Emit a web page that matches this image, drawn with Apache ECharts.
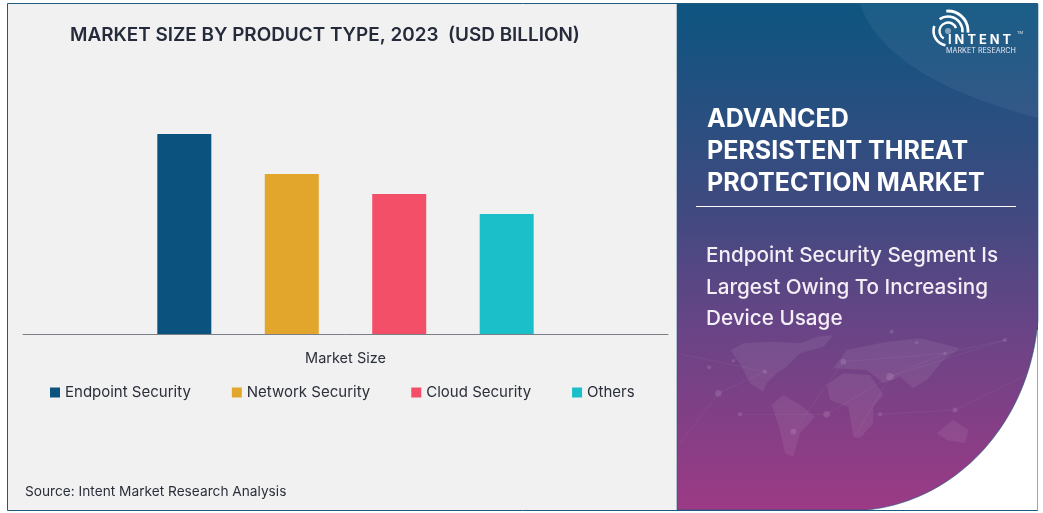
<!DOCTYPE html>
<html><head><meta charset="utf-8">
<style>html,body{margin:0;padding:0;background:#fff}#c{width:1043px;height:513px}</style>
<script src="https://cdn.jsdelivr.net/npm/echarts@6/dist/echarts.min.js"></script>
</head><body><div id="c"></div>
<script>
const category = ['Market Size'];
const seriesNames = ['Endpoint Security','Network Security','Cloud Security','Others'];
const seriesValues = [10.0, 8.0, 7.0, 6.0];
const seriesColors = ['#0b527e','#e3a62c','#f44f69','#1bbfca'];
const titleText = 'MARKET SIZE BY PRODUCT TYPE, 2023  (USD BILLION)';
const headingLines = ['ADVANCED','PERSISTENT THREAT','PROTECTION MARKET'];
const subLines = ['Endpoint Security Segment Is','Largest Owing To Increasing','Device Usage'];
const sourceText = 'Source: Intent Market Research Analysis';
const FONT = 'Inter, "Open Sans", sans-serif';

const mapShapes = [
 [212,90,250,70,330,65,420,70,470,50,520,45,490,80,420,100,380,140,350,160,320,190,310,215,270,190,245,140],
 [335,255,370,225,420,255,465,290,420,340,400,410,375,400,360,330],
 [500,195,550,160,630,165,670,225,640,260,640,310,600,355,580,350,565,260,510,240],
 [520,145,560,90,680,65,780,55,900,85,850,120,800,180,760,205,720,170,670,190,620,150],
 [830,340,880,300,925,330,915,370,860,360]
];
const netLines = [
 [50,100,315,155],[175,220,315,155],[240,283,500,283],[175,220,60,370],[500,283,690,170],
 [400,335,550,125],[590,340,690,170],[690,170,855,100],[660,283,885,270],[550,125,855,100],
 [885,270,1130,150],[855,100,1035,60],[690,170,1035,60]
];
const netDots = [[147,142,5],[220,122,4],[315,155,5],[175,220,8],[240,283,5],[500,283,8],[400,335,7],[550,125,7],[690,170,9],[660,283,5],[855,100,4],[885,270,6],[1035,60,5],[695,35,5],[770,68,4]];
const logoArcs = [[20,-95,5,2.8],[14.5,-125,5,2.6],[14.5,100,200,2.6],[8.5,120,340,2.4]];
const zx = v => 660 + v/3, zy = v => 320 + v/3;
const rad = d => d*Math.PI/180;
function bez(p0,p1,p2,p3,n){const o=[];for(let i=0;i<=n;i++){const t=i/n,u=1-t;
 o.push([u*u*u*p0[0]+3*u*u*t*p1[0]+3*u*t*t*p2[0]+t*t*t*p3[0],u*u*u*p0[1]+3*u*u*t*p1[1]+3*u*t*t*p2[1]+t*t*t*p3[1]]);}return o;}
const panelPts = [[677,4],[1038,4]].concat(bez([1038,320],[1030,420],[960,500],[867,510],40),[[677,510]]);
const swooshPts = bez([860,4],[880,60],[950,95],[1038,118],30).concat([[1038,4]]);

const gfx = [
 {type:'rect',z:0,shape:{x:7.5,y:3.5,width:1030,height:507},style:{fill:'#f1f1f2',stroke:'#1d5a80',lineWidth:1}},
 {type:'rect',z:0,shape:{x:860,y:330,width:177.5,height:180},style:{fill:'#ffffff'}},
 {type:'polygon',z:1,shape:{points:panelPts},
  style:{fill:new echarts.graphic.LinearGradient(0,0,0,1,[{offset:0,color:'#0d5580'},{offset:0.4,color:'#3f4a80'},{offset:0.65,color:'#6a4486'},{offset:1,color:'#9c3a85'}]),stroke:'#1d5a80',lineWidth:0.6}},
 {type:'polygon',z:2,shape:{points:swooshPts},style:{fill:'rgba(255,255,255,0.055)'}},
 {type:'line',z:3,shape:{x1:696,y1:206.5,x2:1016,y2:206.5},style:{stroke:'#fff',lineWidth:1}},
 {type:'text',z:5,x:25,y:485,style:{text:sourceText,font:'13.7px '+FONT,fill:'#2b2f3a'}}
];
mapShapes.forEach(p=>{const pts=[];for(let i=0;i<p.length;i+=2)pts.push([zx(p[i]),zy(p[i+1])]);
 gfx.push({type:'polygon',z:2,shape:{points:pts},style:{fill:'rgba(255,255,255,0.07)'}});});
netLines.forEach(l=>gfx.push({type:'line',z:2,shape:{x1:zx(l[0]),y1:zy(l[1]),x2:zx(l[2]),y2:zy(l[3])},style:{stroke:'rgba(255,255,255,0.07)',lineWidth:0.7}}));
netDots.forEach(d=>gfx.push({type:'circle',z:2,shape:{cx:zx(d[0]),cy:zy(d[1]),r:d[2]/2.4},style:{fill:'rgba(255,255,255,0.12)'}}));
logoArcs.forEach(a=>gfx.push({type:'arc',z:4,shape:{cx:948,cy:31,r:a[0],startAngle:rad(a[1]),endAngle:rad(a[2]),clockwise:true},style:{stroke:'#fff',fill:null,lineWidth:a[3]}}));
gfx.push({type:'circle',z:4,shape:{cx:948,cy:31,r:3},style:{fill:'rgba(255,255,255,0.45)'}});
gfx.push({type:'text',z:5,x:948,y:34,style:{text:'I N T E N T',font:'bold 12.8px '+FONT,fill:'#fff'}});
gfx.push({type:'text',z:5,x:1017,y:31,style:{text:'TM',font:'4px '+FONT,fill:'#e6e6f0'}});
gfx.push({type:'text',z:5,x:946,y:47,style:{text:'MARKET RESEARCH',font:'7.2px '+FONT,fill:'#e6e6f0'}});
headingLines.forEach((t,i)=>gfx.push({type:'text',z:5,x:707,y:107+i*32,style:{text:t,font:'700 25px '+FONT,fill:'#fff'}}));
subLines.forEach((t,i)=>gfx.push({type:'text',z:5,x:706,y:245.5+i*31.5,style:{text:t,font:'500 20.7px '+FONT,fill:'#f4eef6'}}));

const chart = echarts.init(document.getElementById('c'),null,{renderer:'canvas'});
chart.setOption({
 animation:false,
 textStyle:{fontFamily:FONT},
 title:{text:titleText,left:65,top:21,textStyle:{fontFamily:FONT,fontSize:18.9,fontWeight:600,color:'#252b3a'}},
 legend:{left:45,top:380,icon:'rect',itemWidth:10,itemHeight:10,itemGap:41,textStyle:{fontFamily:FONT,fontSize:15,color:'#2b2f3a'},data:seriesNames},
 grid:{left:23,right:375,top:94,bottom:179},
 xAxis:{type:'category',data:category,axisTick:{show:false},axisLine:{lineStyle:{color:'#7a7f85',width:1}},
  axisLabel:{margin:17,fontSize:14.5,color:'#2b2f3a',fontFamily:FONT}},
 yAxis:{type:'value',min:0,max:12,show:false,splitLine:{show:false}},
 series:seriesNames.map((n,i)=>({name:n,type:'bar',barWidth:54,barGap:'99%',data:[seriesValues[i]],itemStyle:{color:seriesColors[i]}})),
 graphic:{elements:gfx}
});
</script></body></html>
